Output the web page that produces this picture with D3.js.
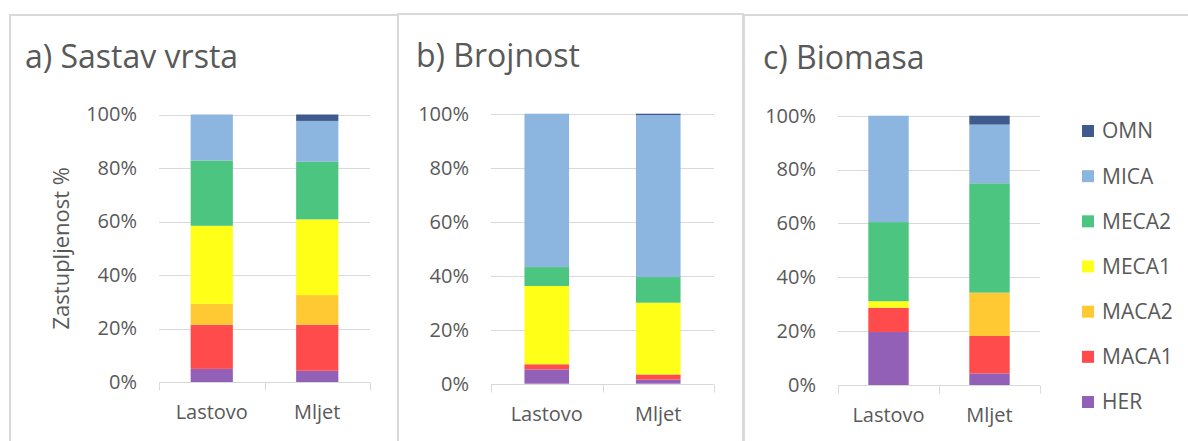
<!DOCTYPE html>
<html><head><meta charset="utf-8">
<script src="https://cdn.jsdelivr.net/npm/d3@7"></script>
<style>
html,body{margin:0;padding:0;background:#fff;}
svg{display:block;font-family:"Open Sans","Noto Sans",sans-serif;}
</style></head>
<body>
<svg id="chart" width="1188" height="441"></svg>
<script>
const categories = ["Lastovo", "Mljet"];
const seriesNames = ["HER", "MACA1", "MACA2", "MECA1", "MECA2", "MICA", "OMN"];
const seriesColors = ["#9260b6", "#ff4b4b", "#ffc933", "#ffff17", "#4bc57f", "#8cb5e0", "#3f5a8c"];
const tickLabels = ["0%", "20%", "40%", "60%", "80%", "100%"];
const tickValues = [0, 20, 40, 60, 80, 100];

// values in %, one array per series: [Lastovo, Mljet]
const sastavHER   = [4.9, 4.2];
const sastavMACA1 = [16.5, 17.2];
const sastavMACA2 = [7.8, 11.1];
const sastavMECA1 = [29.2, 28.3];
const sastavMECA2 = [24.4, 21.5];
const sastavMICA  = [17.2, 15.3];
const sastavOMN   = [0, 2.4];

const brojHER   = [5.3, 1.5];
const brojMACA1 = [1.9, 1.8];
const brojMACA2 = [0, 0.3];
const brojMECA1 = [29.0, 26.4];
const brojMECA2 = [7.0, 9.5];
const brojMICA  = [56.8, 60.0];
const brojOMN   = [0, 0.5];

const bioHER   = [19.7, 4.3];
const bioMACA1 = [9.0, 13.9];
const bioMACA2 = [0, 16.1];
const bioMECA1 = [2.4, 0];
const bioMECA2 = [29.4, 40.6];
const bioMICA  = [39.5, 21.8];
const bioOMN   = [0, 3.3];

const panelTitles = ["a) Sastav vrsta", "b) Brojnost", "c) Biomasa"];
const yAxisTitle = "Zastupljenost %";

function buildRows(series) {
  return categories.map((c, i) => {
    const r = {cat: c};
    seriesNames.forEach((s, k) => r[s] = series[k][i]);
    return r;
  });
}
const panelData = [
  buildRows([sastavHER, sastavMACA1, sastavMACA2, sastavMECA1, sastavMECA2, sastavMICA, sastavOMN]),
  buildRows([brojHER, brojMACA1, brojMACA2, brojMECA1, brojMECA2, brojMICA, brojOMN]),
  buildRows([bioHER, bioMACA1, bioMACA2, bioMECA1, bioMECA2, bioMICA, bioOMN])
];

const svg = d3.select("#chart");
const textColor = "#595959";
const gridColor = "#d9d9d9";

// panel frames
const frames = [
  {x: 10, y: 15, w: 388, h: 440},
  {x: 398, y: 14, w: 345, h: 440},
  {x: 744, y: 15, w: 460, h: 440}
];
// plot areas
const plots = [
  {x0: 159, x1: 370, y0: 114.5, y1: 382, tx: 25, ty: 68},
  {x0: 491, x1: 714, y0: 113.7, y1: 383.7, tx: 416, ty: 67},
  {x0: 838, x1: 1040, y0: 115.7, y1: 385, tx: 763, ty: 68.5}
];

const color = d3.scaleOrdinal().domain(seriesNames).range(seriesColors);
const stack = d3.stack().keys(seriesNames);

frames.forEach((f, p) => {
  svg.append("rect").attr("x", f.x).attr("y", f.y).attr("width", f.w).attr("height", f.h)
    .attr("fill", "#fff").attr("stroke", gridColor).attr("stroke-width", 2);

  const pl = plots[p];
  const g = svg.append("g");
  const x = d3.scaleBand().domain(categories).range([pl.x0, pl.x1]).paddingInner(0.6).paddingOuter(0.3);
  const y = d3.scaleLinear().domain([0, 100]).range([pl.y1, pl.y0]);

  // title
  g.append("text").attr("x", pl.tx).attr("y", pl.ty).text(panelTitles[p])
    .attr("font-size", 32).attr("fill", textColor);

  // gridlines
  g.selectAll(".grid").data(tickValues.slice(1)).enter().append("line")
    .attr("x1", pl.x0).attr("x2", pl.x1)
    .attr("y1", d => Math.round(y(d)) + 0.5).attr("y2", d => Math.round(y(d)) + 0.5)
    .attr("stroke", gridColor).attr("stroke-width", 1);

  // y axis labels
  const yAxis = d3.axisLeft(y).tickValues(tickValues).tickFormat((d, i) => tickLabels[i]).tickSize(0).tickPadding(22);
  const ya = g.append("g").attr("transform", `translate(${pl.x0},0)`).call(yAxis);
  ya.select(".domain").remove();
  ya.selectAll("text").attr("font-size", 20).attr("fill", textColor).attr("font-family", "Open Sans");

  // bars
  const stacked = stack(panelData[p]);
  g.selectAll(".layer").data(stacked).enter().append("g")
    .attr("fill", d => color(d.key))
    .selectAll("rect").data(d => d).enter().append("rect")
    .attr("x", d => x(d.data.cat)).attr("width", x.bandwidth())
    .attr("y", d => y(d[1])).attr("height", d => Math.max(0, y(d[0]) - y(d[1])));

  // x axis
  const xAxis = d3.axisBottom(x).tickSize(0).tickPadding(23);
  const xa = g.append("g").attr("transform", `translate(0,${pl.y1})`).call(xAxis);
  xa.select(".domain").remove();
  xa.selectAll("text").attr("font-size", 20).attr("fill", textColor).attr("font-family", "Open Sans");
  const baseY = Math.round(pl.y1) + 0.5;
  g.append("line").attr("x1", pl.x0).attr("x2", pl.x1).attr("y1", baseY).attr("y2", baseY)
    .attr("stroke", gridColor);
  const bounds = [pl.x0, pl.x0 + x.step(), pl.x1];
  g.selectAll(".xt").data(bounds).enter().append("line")
    .attr("x1", d => Math.round(d) + 0.5).attr("x2", d => Math.round(d) + 0.5)
    .attr("y1", baseY).attr("y2", baseY + 8).attr("stroke", gridColor);

  if (p === 0) {
    g.append("text").attr("transform", `translate(69,${(pl.y0 + pl.y1) / 2}) rotate(-90)`)
      .attr("text-anchor", "middle").attr("font-size", 22).attr("fill", textColor)
      .text(yAxisTitle);
  }
  if (p === 2) {
    const legendOrder = seriesNames.slice().reverse();
    const ly = d3.scalePoint().domain(legendOrder).range([131, 402]);
    const lg = g.selectAll(".leg").data(legendOrder).enter().append("g")
      .attr("transform", d => `translate(1082,${ly(d)})`);
    lg.append("rect").attr("x", 0).attr("y", -6).attr("width", 12).attr("height", 12)
      .attr("fill", d => color(d));
    lg.append("text").attr("x", 20).attr("y", 0).attr("dy", "0.35em")
      .attr("font-size", 21).attr("fill", textColor).text(d => d);
  }
});
</script>
</body></html>
